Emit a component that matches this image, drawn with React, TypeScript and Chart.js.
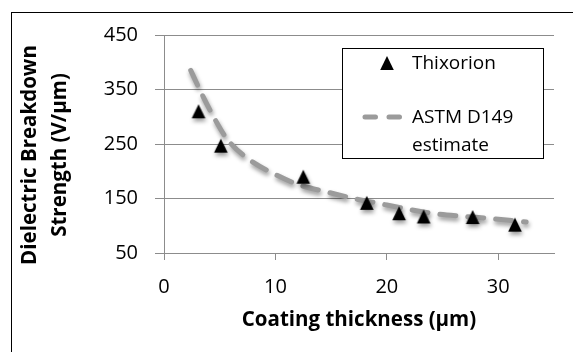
import React, { useEffect, useRef } from 'react';
import { Chart, registerables } from 'chart.js';

Chart.register(...registerables);

// Measured data (Thixorion)
const thicknessUm = [3.1, 5.1, 12.5, 18.2, 21.1, 23.3, 27.7, 31.5];
const strengthVum = [310, 247, 190, 142, 123, 117, 116, 102];

// ASTM D149 estimate curve
const estimateThickness = [2.4, 3.2, 4.5, 5.7, 7.6, 10, 12, 15, 17, 19, 20, 24, 27, 29.5, 32.5];
const estimateStrength = [385, 350, 298, 258, 222, 194, 176, 160, 150, 142, 138, 123, 117, 113, 107];

// Axis ticks
const xTickValues = [0, 10, 20, 30];
const yTickValues = [50, 150, 250, 350, 450];

const seriesLabels = ['Thixorion', 'ASTM D149 estimate'];
const legendLines = [['Thixorion'], ['ASTM D149', 'estimate']];
const xTitle = 'Coating thickness (μm)';
const yTitleLines = ['Dielectric Breakdown', 'Strength (V/μm)'];

const GRID = '#8c8c8c';
const LINE_COLOR = '#9b9b9b';
const FONT = '"Open Sans", sans-serif';

export default function App() {
  const ref = useRef<HTMLCanvasElement>(null);

  useEffect(() => {
    const tri = document.createElement('canvas');
    tri.width = 16;
    tri.height = 16;
    const tctx = tri.getContext('2d')!;
    tctx.fillStyle = '#000';
    tctx.beginPath();
    tctx.moveTo(8, 1);
    tctx.lineTo(14.8, 15);
    tctx.lineTo(1.2, 15);
    tctx.closePath();
    tctx.fill();

    Chart.defaults.font.family = FONT;

    const shadowPlugin = {
      id: 'softShadow',
      beforeDatasetsDraw(chart: any) {
        const c = chart.ctx;
        c.save();
        c.shadowColor = 'rgba(0,0,0,0.4)';
        c.shadowBlur = 4;
        c.shadowOffsetX = 1;
        c.shadowOffsetY = 3;
      },
      afterDatasetsDraw(chart: any) {
        chart.ctx.restore();
      },
    };

    const yTitlePlugin = {
      id: 'yTitle',
      afterDraw(chart: any) {
        const { ctx, chartArea } = chart;
        ctx.save();
        ctx.translate(chartArea.left - 134, (chartArea.top + chartArea.bottom) / 2 + 11);
        ctx.rotate(-Math.PI / 2);
        ctx.font = `bold 20.5px ${FONT}`;
        ctx.textAlign = 'center';
        ctx.textBaseline = 'middle';
        ctx.fillStyle = '#000';
        yTitleLines.forEach((t, i) => ctx.fillText(t, 0, i * 30));
        ctx.restore();
      },
    };

    const legendPlugin = {
      id: 'boxLegend',
      afterDraw(chart: any) {
        const { ctx, chartArea } = chart;
        const w = 201;
        const h = 110;
        const x0 = Math.round(chartArea.right - 11 - w);
        const y0 = Math.round(chartArea.top + 13);
        ctx.save();
        ctx.fillStyle = '#fff';
        ctx.fillRect(x0, y0, w, h);
        ctx.strokeStyle = '#000';
        ctx.lineWidth = 1;
        ctx.strokeRect(x0 + 0.5, y0 + 0.5, w, h);
        ctx.drawImage(tri, x0 + 45 - tri.width / 2, y0 + 15 - tri.height / 2);
        ctx.strokeStyle = LINE_COLOR;
        ctx.lineWidth = 5;
        ctx.lineCap = 'round';
        ctx.setLineDash([10.5, 13.5]);
        ctx.beginPath();
        ctx.moveTo(x0 + 23, y0 + 69);
        ctx.lineTo(x0 + 59, y0 + 69);
        ctx.stroke();
        ctx.setLineDash([]);
        ctx.fillStyle = '#000';
        ctx.font = `19px ${FONT}`;
        ctx.textBaseline = 'middle';
        ctx.textAlign = 'left';
        ctx.fillText(legendLines[0][0], x0 + 70, y0 + 16);
        legendLines[1].forEach((t, i) => ctx.fillText(t, x0 + 70, y0 + 70 + i * 28));
        ctx.restore();
      },
    };

    const chart = new Chart(ref.current!, {
      type: 'scatter',
      data: {
        datasets: [
          {
            label: seriesLabels[0],
            data: thicknessUm.map((x, i) => ({ x, y: strengthVum[i] })),
            pointStyle: tri as any,
            pointRadius: 8,
            backgroundColor: '#000',
            borderColor: '#000',
            showLine: false,
          },
          {
            label: seriesLabels[1],
            data: estimateThickness.map((x, i) => ({ x, y: estimateStrength[i] })),
            showLine: true,
            pointRadius: 0,
            borderColor: LINE_COLOR,
            borderWidth: 5,
            borderDash: [16, 12],
            borderCapStyle: 'round',
            cubicInterpolationMode: 'monotone',
            fill: false,
          } as any,
        ],
      },
      options: {
        animation: false,
        responsive: false,
        devicePixelRatio: 1,
        layout: { padding: { top: 35, right: 19, left: 0, bottom: 0 } },
        plugins: { legend: { display: false }, tooltip: { enabled: false } },
        scales: {
          x: {
            type: 'linear',
            min: 0,
            max: 35,
            afterBuildTicks: (s: any) => {
              s.ticks = xTickValues.map((v) => ({ value: v }));
            },
            afterFit: (s: any) => {
              s.height = 99;
            },
            grid: { drawOnChartArea: false, drawTicks: true, tickLength: 7, color: GRID },
            border: { color: GRID, width: 1 },
            ticks: { padding: 15, font: { size: 20 }, color: '#000', maxRotation: 0 },
            title: {
              display: true,
              text: xTitle,
              font: { size: 20.5, weight: 'bold' },
              color: '#000',
              padding: { top: 0, bottom: 20 },
            },
          },
          y: {
            type: 'linear',
            min: 50,
            max: 450,
            afterBuildTicks: (s: any) => {
              s.ticks = yTickValues.map((v) => ({ value: v }));
            },
            afterFit: (s: any) => {
              s.width = 164;
            },
            grid: { color: GRID, tickLength: 9 },
            border: { color: GRID, width: 1 },
            ticks: { padding: 17, font: { size: 20 }, color: '#000' },
          },
        },
      } as any,
      plugins: [shadowPlugin, yTitlePlugin, legendPlugin],
    });
    return () => chart.destroy();
  }, []);

  return (
    <div style={{ position: 'fixed', left: 0, top: 0, width: 573, height: 352, background: '#fff', overflow: 'hidden' }}>
      <div style={{ position: 'absolute', left: 11, top: 12, width: 640, height: 420, border: '1px solid #000' }} />
      <canvas ref={ref} width={573} height={352} style={{ position: 'absolute', left: 0, top: 0, width: 573, height: 352 }} />
    </div>
  );
}
